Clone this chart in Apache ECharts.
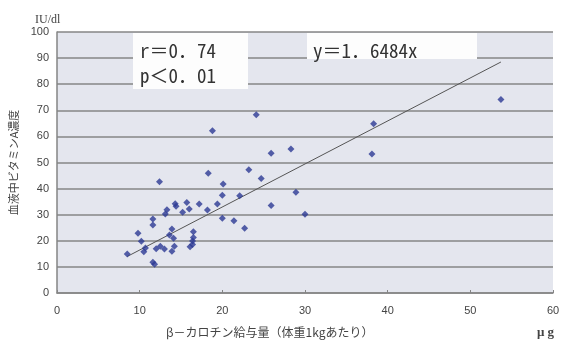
<!DOCTYPE html>
<html>
<head>
<meta charset="utf-8">
<script src="https://cdn.jsdelivr.net/npm/echarts@6/dist/echarts.min.js"></script>
<style>
html,body{margin:0;padding:0;background:#ffffff;}
#chart{width:566px;height:343px;}
</style>
</head>
<body>
<div id="chart"></div>
<script>
// β-carotene intake (µg per kg body weight) vs. blood vitamin A (IU/dl)
var carotene = [8.5, 9.8, 10.2, 10.7, 10.5, 11.6, 11.6, 11.6, 11.8, 12.0, 12.5, 12.4, 13.0, 13.1, 13.3, 13.6, 13.9, 13.9, 14.1, 14.2, 14.3, 14.4, 15.2, 15.7, 16.0, 16.5, 16.5, 16.4, 16.4, 16.1, 17.2, 18.3, 18.2, 18.8, 19.4, 20.0, 20.0, 20.1, 21.4, 22.1, 22.7, 23.2, 24.1, 24.7, 25.9, 25.9, 28.3, 28.9, 30.0, 38.1, 38.3, 53.7];
var vitaminA = [14.9, 22.9, 19.8, 17.2, 15.8, 28.4, 26.1, 11.8, 11.0, 17.0, 17.9, 42.6, 16.9, 30.3, 31.9, 22.2, 24.5, 16.0, 21.0, 17.9, 34.2, 33.2, 30.9, 34.7, 32.2, 23.5, 21.3, 19.9, 18.6, 17.7, 34.1, 45.9, 31.8, 62.2, 34.1, 28.6, 37.5, 41.8, 27.7, 37.3, 24.8, 47.2, 68.3, 43.9, 53.5, 33.5, 55.2, 38.6, 30.2, 53.3, 64.8, 74.1];
// regression line y = 1.6484x, endpoints as drawn
var regX = [8.5, 53.7];
var regY = [14.0, 88.5];
var xTicks = [0, 10, 20, 30, 40, 50, 60];
var yTicks = [0, 10, 20, 30, 40, 50, 60, 70, 80, 90, 100];
var statsText = ['r＝0．74', 'p＜0．01'];
var eqText = 'y＝1．6484x';

var points = carotene.map(function (x, i) { return [x, vitaminA[i]]; });
var regLine = regX.map(function (x, i) { return [x, regY[i]]; });

var chart = echarts.init(document.getElementById('chart'), null, {renderer: 'canvas'});
var monoFont = '"Noto Sans Mono CJK JP", "Noto Sans CJK JP", sans-serif';
chart.setOption({
  backgroundColor: '#ffffff',
  animation: false,
  grid: {
    left: 56, right: 13, top: 32, bottom: 50,
    show: true, backgroundColor: '#e4e6ee', borderWidth: 0
  },
  xAxis: {
    type: 'value', min: xTicks[0], max: xTicks[xTicks.length - 1], interval: 10,
    axisLine: {show: true, lineStyle: {color: '#858585', width: 1.5}},
    axisTick: {show: true, inside: true, length: 3, lineStyle: {color: '#858585'}},
    splitLine: {show: false},
    axisLabel: {color: '#444', fontSize: 11, margin: 12, fontFamily: 'Liberation Sans'}
  },
  yAxis: {
    type: 'value', min: yTicks[0], max: yTicks[yTicks.length - 1], interval: 10,
    name: '血液中ビタミンA濃度', nameLocation: 'middle', nameGap: 38, nameRotate: 90,
    nameTextStyle: {color: '#444', fontSize: 11, fontFamily: '"Noto Sans CJK JP"'},
    axisLine: {show: true, lineStyle: {color: '#858585', width: 1.5}},
    axisTick: {show: false},
    splitLine: {show: true, lineStyle: {color: '#868686', width: 1.5}},
    axisLabel: {color: '#444', fontSize: 11, margin: 8, fontFamily: 'Liberation Sans'}
  },
  graphic: [
    {type: 'rect', z: 5, shape: {x: 133, y: 33, width: 115, height: 56}, style: {fill: '#fdfdfd'}},
    {type: 'rect', z: 5, shape: {x: 307, y: 33, width: 170, height: 26}, style: {fill: '#fdfdfd'}},
    {type: 'text', z: 6, left: 140, top: 41, style: {text: statsText[0], font: '19px ' + monoFont, fill: '#333'}},
    {type: 'text', z: 6, left: 140, top: 66, style: {text: statsText[1], font: '19px ' + monoFont, fill: '#333'}},
    {type: 'text', z: 6, left: 313, top: 41, style: {text: eqText, font: '19px ' + monoFont, fill: '#333'}},
    {type: 'text', z: 6, left: 35, top: 14, style: {text: 'IU/dl', font: '12px "Liberation Serif"', fill: '#444'}},
    {type: 'text', z: 6, left: 166, top: 326, style: {text: 'β－カロチン給与量（体重1kgあたり）', font: '12px "Noto Sans CJK JP"', fill: '#444'}},
    {type: 'text', z: 6, left: 537, top: 326, style: {text: 'μ g', font: 'bold 13px "Liberation Serif"', fill: '#444'}}
  ],
  series: [
    {
      type: 'line', data: regLine, symbol: 'none', z: 3,
      lineStyle: {color: '#555', width: 1}
    },
    {
      type: 'scatter', data: points, symbol: 'diamond', symbolSize: 7, z: 4,
      itemStyle: {color: '#2c3a94'}
    }
  ]
});
</script>
</body>
</html>
